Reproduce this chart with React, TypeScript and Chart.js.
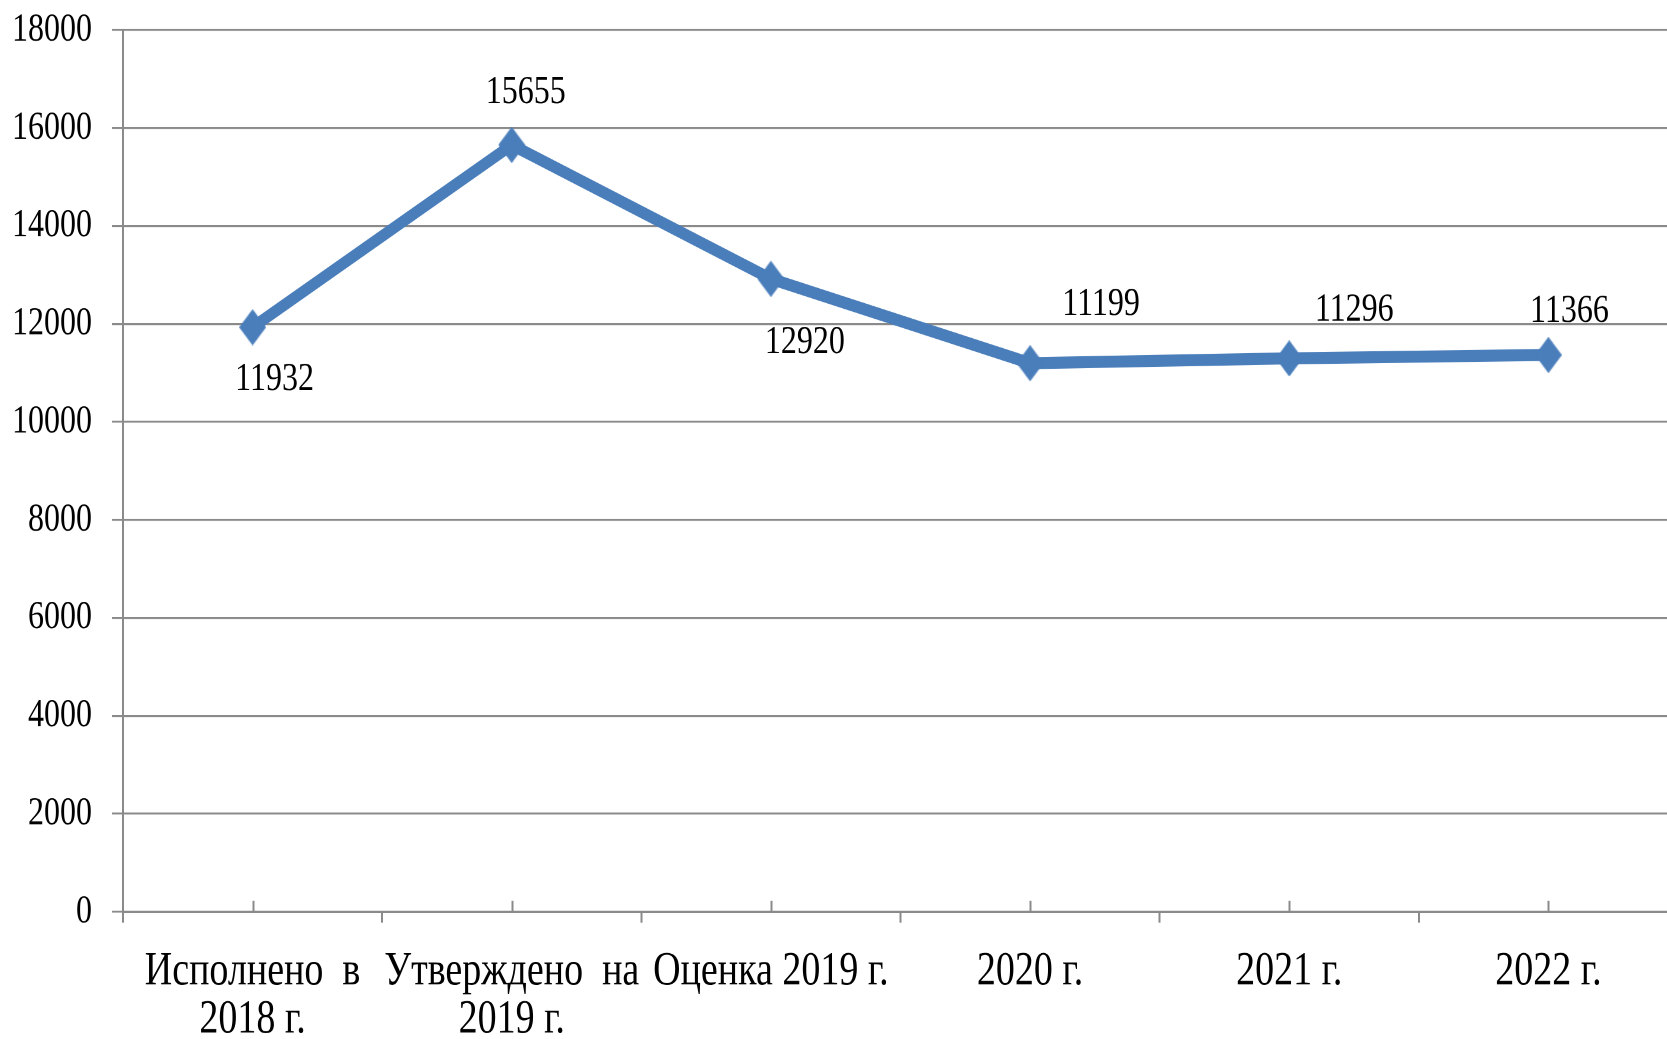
import React, { useEffect, useRef } from "react";
import { Chart, registerables } from "chart.js";

Chart.register(...registerables);

// ---- data ----
const categories: (string | string[])[] = [
  ["Исполнено  в", "2018 г."],
  ["Утверждено  на", "2019 г."],
  "Оценка 2019 г.",
  "2020 г.",
  "2021 г.",
  "2022 г.",
];
const values: number[] = [11932, 15655, 12920, 11199, 11296, 11366];
const yMin = 0;
const yMax = 18000;
const yStep = 2000;

// ---- layout / style (not data) ----
const STRETCH = 1.25; // vertical stretch of the original picture
const W = 1692;
const H = 1039 / STRETCH;
const FONT = '"Liberation Serif", "Times New Roman", serif';
const GRID = "#8a8a8a";
const LINE = "#4a7ebb";
const TOP = 30 / STRETCH;
const BOTTOM = 912 / STRETCH;
const TICK = 11 / STRETCH;
const labelOffsets: [number, number][] = [
  [22, 42],
  [14, -42],
  [34, 51],
  [71, -47],
  [65, -38.4],
  [21, -34.8],
];

function makeDiamond(): HTMLCanvasElement {
  const c = document.createElement("canvas");
  const w = 27;
  const h = 29;
  c.width = w;
  c.height = h;
  const g = c.getContext("2d")!;
  g.fillStyle = LINE;
  g.beginPath();
  g.moveTo(w / 2, 0);
  g.lineTo(w, h / 2);
  g.lineTo(w / 2, h);
  g.lineTo(0, h / 2);
  g.closePath();
  g.fill();
  return c;
}

const extrasPlugin = {
  id: "extras",
  afterDatasetsDraw(chart: any) {
    const ctx = chart.ctx;
    const x = chart.scales.x;
    const area = chart.chartArea;
    ctx.save();
    // short upward tick marks at category centres
    ctx.strokeStyle = GRID;
    ctx.lineWidth = 2;
    for (let i = 0; i < categories.length; i++) {
      const px = Math.round(x.getPixelForValue(i)) + 0.5;
      ctx.beginPath();
      ctx.moveTo(px, area.bottom);
      ctx.lineTo(px, area.bottom - TICK);
      ctx.stroke();
    }
    // data labels
    const meta = chart.getDatasetMeta(0);
    ctx.fillStyle = "#000";
    ctx.font = `32px ${FONT}`;
    ctx.textAlign = "center";
    ctx.textBaseline = "middle";
    meta.data.forEach((pt: any, i: number) => {
      const [dx, dy] = labelOffsets[i];
      ctx.fillText(String(values[i]), pt.x + dx, pt.y + dy);
    });
    ctx.restore();
  },
};

export default function App() {
  const ref = useRef<HTMLCanvasElement | null>(null);

  useEffect(() => {
    document.body.style.margin = "0";
    document.body.style.background = "#fff";
    const canvas = ref.current!;
    const diamond = makeDiamond();
    const chart = new Chart(canvas, {
      type: "line",
      data: {
        labels: categories,
        datasets: [
          {
            data: values,
            borderColor: LINE,
            backgroundColor: LINE,
            borderWidth: 9.6,
            pointStyle: diamond as any,
            pointRadius: 14,
            pointBorderWidth: 0,
            pointBackgroundColor: LINE,
            tension: 0,
          },
        ],
      },
      options: {
        animation: false,
        responsive: false,
        maintainAspectRatio: false,
        devicePixelRatio: 2,
        layout: { padding: { left: 0, top: TOP, right: 1, bottom: 0 } },
        plugins: {
          legend: { display: false },
          tooltip: { enabled: false },
        },
        scales: {
          x: {
            type: "category",
            offset: true,
            grid: {
              offset: true,
              drawOnChartArea: false,
              drawTicks: true,
              tickLength: TICK,
              tickWidth: 2,
              tickColor: GRID,
              color: GRID,
            },
            border: { display: true, color: GRID, width: 2 },
            ticks: {
              color: "#000",
              font: { family: FONT, size: 38, lineHeight: 1.01 },
              padding: 20,
              maxRotation: 0,
              autoSkip: false,
            },
            afterFit: (s: any) => {
              s.height = H - BOTTOM;
              s.paddingLeft = 0;
              s.paddingRight = 0;
            },
          },
          y: {
            min: yMin,
            max: yMax,
            grid: {
              color: GRID,
              lineWidth: 1.6,
              drawTicks: true,
              tickLength: 11,
              tickColor: GRID,
              tickWidth: 1.6,
            },
            border: { display: true, color: GRID, width: 2 },
            ticks: {
              stepSize: yStep,
              color: "#000",
              font: { family: FONT, size: 32 },
              padding: 20,
              callback: (v: any) => String(v),
            },
            afterFit: (s: any) => {
              s.width = 123;
              s.paddingTop = 0;
              s.paddingBottom = 0;
            },
          },
        },
      },
      plugins: [extrasPlugin],
    });
    return () => chart.destroy();
  }, []);

  return (
    <div
      style={{
        position: "fixed",
        left: 0,
        top: 0,
        width: 1667,
        height: 1039,
        overflow: "hidden",
        background: "#fff",
      }}
    >
      <div style={{ transform: `scaleY(${STRETCH})`, transformOrigin: "0 0", width: W, height: H }}>
        <canvas ref={ref} width={W} height={H} style={{ width: W, height: H, display: "block" }} />
      </div>
    </div>
  );
}
